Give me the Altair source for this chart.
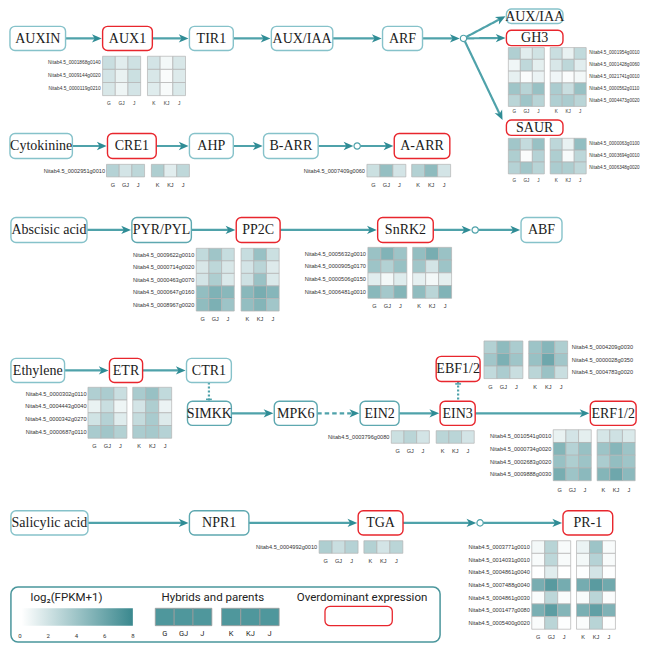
import math
import altair as alt
import pandas as pd

# ======================= DATA =======================
COLS = ["G", "GJ", "J", "K", "KJ", "J"]

NODE_IDS = ["auxin", "aux1", "tir1", "auxiaa1", "arf", "auxiaa2", "gh3", "saur",
            "cyto", "cre1", "ahp", "barr", "aarr",
            "aba", "pyr", "pp2c", "snrk2", "abf",
            "eth", "etr", "ctr1", "simkk", "mpk6", "ein2", "ein3", "ebf", "erf",
            "sa", "npr1", "tga", "pr1"]
NODE_LABELS = ["AUXIN", "AUX1", "TIR1", "AUX/IAA", "ARF", "AUX/IAA", "GH3", "SAUR",
               "Cytokinine", "CRE1", "AHP", "B-ARR", "A-ARR",
               "Abscisic acid", "PYR/PYL", "PP2C", "SnRK2", "ABF",
               "Ethylene", "ETR", "CTR1", "SIMKK", "MPK6", "EIN2", "EIN3", "EBF1/2", "ERF1/2",
               "Salicylic acid", "NPR1", "TGA", "PR-1"]
# n = plain node, d = plain node (darker outline), o = overdominant expression
NODE_KINDS = ["n", "o", "n", "n", "n", "n", "o", "o",
              "n", "o", "n", "n", "o",
              "n", "d", "o", "o", "n",
              "n", "o", "n", "d", "d", "d", "o", "o", "o",
              "n", "d", "o", "o"]

EDGES = [("auxin", "aux1", "solid"), ("aux1", "tir1", "solid"), ("tir1", "auxiaa1", "solid"),
         ("auxiaa1", "arf", "solid"), ("arf", "j1", "solid"), ("j1", "auxiaa2", "solid"),
         ("j1", "gh3", "solid"), ("j1", "saur", "solid"),
         ("cyto", "cre1", "solid"), ("cre1", "ahp", "solid"), ("ahp", "barr", "solid"),
         ("barr", "j2", "solid"), ("j2", "aarr", "solid"),
         ("aba", "pyr", "solid"), ("pyr", "pp2c", "solid"), ("pp2c", "snrk2", "solid"),
         ("snrk2", "j3", "solid"), ("j3", "abf", "solid"),
         ("eth", "etr", "solid"), ("etr", "ctr1", "solid"), ("simkk", "mpk6", "solid"),
         ("mpk6", "ein2", "dashed"), ("ein2", "ein3", "solid"), ("ein3", "erf", "solid"),
         ("sa", "npr1", "solid"), ("npr1", "tga", "solid"), ("tga", "j4", "solid"),
         ("j4", "pr1", "solid")]
INHIBITIONS = [("ctr1", "simkk", "bottom"), ("ebf", "ein3", "top")]

AUX1_GENES = ["Nitab4.5_0001868g0140", "Nitab4.5_0009144g0020", "Nitab4.5_0000119g0210"]
AUX1_VALUES = [[2.2, 1.2, 2.0, 1.8, 0.5, 1.6],
               [1.8, 0.9, 2.1, 1.6, 0.2, 1.4],
               [1.6, 0.7, 1.8, 1.3, 0.3, 1.5]]

GH3_GENES = ["Nitab4.5_0001954g0010", "Nitab4.5_0001428g0060", "Nitab4.5_0021741g0010",
             "Nitab4.5_0000562g0110", "Nitab4.5_0004473g0020"]
GH3_VALUES = [[3.2, 1.2, 1.9, 2.2, 0.9, 2.5],
              [0.6, 2.6, 1.1, 1.6, 2.7, 1.2],
              [1.0, 0.2, 0.8, 0.6, 0.2, 0.5],
              [3.9, 2.9, 4.2, 3.4, 2.2, 4.2],
              [2.8, 3.9, 2.9, 3.2, 3.4, 2.8]]

SAUR_GENES = ["Nitab4.5_0000063g0100", "Nitab4.5_0003694g0010", "Nitab4.5_0006348g0020"]
SAUR_VALUES = [[3.8, 2.4, 4.2, 2.7, 0.9, 4.4],
               [3.3, 0.2, 3.0, 3.3, 0.3, 2.7],
               [3.0, 3.8, 2.9, 3.4, 3.3, 2.6]]

CRE1_GENES = ["Nitab4.5_0002951g0010"]
CRE1_VALUES = [[3.0, 1.8, 2.7, 3.3, 1.2, 2.6]]

AARR_GENES = ["Nitab4.5_0007409g0060"]
AARR_VALUES = [[2.1, 4.3, 1.8, 3.1, 4.6, 1.8]]

PP2C_GENES = ["Nitab4.5_0009622g0010", "Nitab4.5_0000714g0020", "Nitab4.5_0000463g0070",
              "Nitab4.5_0000647g0160", "Nitab4.5_0008967g0020"]
PP2C_VALUES = [[2.5, 3.9, 2.3, 2.3, 4.2, 2.1],
               [1.6, 2.7, 1.6, 1.8, 2.8, 1.4],
               [1.8, 3.3, 1.5, 2.0, 4.1, 1.5],
               [4.4, 5.2, 4.8, 4.8, 5.5, 4.9],
               [4.5, 5.3, 4.0, 4.4, 5.0, 3.8]]

SNRK2_GENES = ["Nitab4.5_0005632g0010", "Nitab4.5_0000905g0170", "Nitab4.5_0000506g0150",
               "Nitab4.5_0006481g0010"]
SNRK2_VALUES = [[4.1, 5.1, 4.0, 4.4, 5.5, 4.1],
                [4.0, 3.1, 4.2, 3.8, 1.8, 4.0],
                [1.2, 0.5, 1.3, 1.0, 0.5, 1.1],
                [4.8, 3.7, 5.0, 4.5, 2.8, 5.1]]

EBF_GENES = ["Nitab4.5_0004209g0030", "Nitab4.5_0000028g0350", "Nitab4.5_0004783g0020"]
EBF_VALUES = [[3.1, 4.6, 3.4, 4.0, 4.9, 3.3],
              [3.8, 5.3, 3.9, 4.2, 5.9, 3.8],
              [2.5, 3.4, 2.2, 2.8, 4.1, 2.2]]

ETR_GENES = ["Nitab4.5_0000302g0110", "Nitab4.5_0004443g0040", "Nitab4.5_0000342g0270",
             "Nitab4.5_0000687g0110"]
ETR_VALUES = [[3.2, 3.4, 2.2, 3.5, 4.2, 2.5],
              [0.9, 2.2, 0.7, 1.8, 3.3, 0.8],
              [1.9, 3.0, 1.3, 2.4, 3.5, 1.4],
              [3.5, 3.8, 3.1, 3.4, 3.6, 3.0]]

EIN2_GENES = ["Nitab4.5_0003796g0080"]
EIN2_VALUES = [[2.1, 2.8, 1.8, 2.8, 2.8, 1.8]]

ERF_GENES = ["Nitab4.5_0010541g0010", "Nitab4.5_0000734g0020", "Nitab4.5_0002683g0020",
             "Nitab4.5_0009888g0030"]
ERF_VALUES = [[0.9, 1.8, 1.1, 1.7, 2.0, 1.5],
              [5.0, 3.0, 4.2, 4.0, 4.9, 4.0],
              [4.2, 3.3, 4.0, 3.4, 4.4, 3.9],
              [5.5, 4.0, 4.7, 5.0, 5.9, 4.7]]

TGA_GENES = ["Nitab4.5_0004992g0010"]
TGA_VALUES = [[3.3, 2.2, 3.0, 3.1, 1.8, 2.8]]

PR1_GENES = ["Nitab4.5_0003771g0010", "Nitab4.5_0014031g0010", "Nitab4.5_0004861g0040",
             "Nitab4.5_0007488g0040", "Nitab4.5_0004861g0030", "Nitab4.5_0001477g0080",
             "Nitab4.5_0005400g0020"]
PR1_VALUES = [[0.5, 2.9, 0.3, 0.8, 4.0, 0.3],
              [0.3, 2.7, 0.3, 0.5, 3.0, 0.3],
              [0.0, 1.2, 0.0, 0.1, 1.8, 0.1],
              [5.5, 6.8, 5.6, 5.6, 6.7, 5.8],
              [0.2, 2.7, 0.2, 0.3, 2.8, 0.2],
              [5.4, 6.6, 5.0, 5.4, 6.4, 5.2],
              [0.2, 2.8, 0.1, 0.2, 2.9, 0.1]]

LEGEND_TITLES = ["log\u2082(FPKM+1)", "Hybrids and parents", "Overdominant expression"]
LEGEND_TICKS = [0, 2, 4, 6, 8]
COLOR_DOMAIN = [0, 8]

# ======================= LAYOUT / STYLE =======================
W, H = 633, 636
SRC_W, SRC_H = 649, 659
SERIF = "'Liberation Serif', 'Times New Roman', 'DejaVu Serif', serif"
SANS = "'Liberation Sans', Arial, sans-serif"
TEAL_L, TEAL_D, RED = "#86c2ca", "#5ea8b0", "#e8262d"
LINE, HEAD = "#4fa2aa", "#2f8c95"
HIGH = "#3a888e"
CELL_STROKE = "#b3b3b3"

R1, R2, R3, R4, R4B, R5 = (19, 44), (130, 156), (217, 243), (363, 388), (407.5, 432.5), (521, 546)
BOXES = {
    "auxin": (2, 59) + R1, "aux1": (97, 148) + R1, "tir1": (186, 231) + R1,
    "auxiaa1": (270, 333) + R1, "arf": (384, 425) + R1,
    "auxiaa2": (511, 569, 1, 16), "gh3": (511, 569, 23, 39), "saur": (511, 569, 116, 132),
    "cyto": (2, 66) + R2, "cre1": (102, 152) + R2, "ahp": (186, 231) + R2,
    "barr": (262, 318) + R2, "aarr": (396, 453) + R2,
    "aba": (3, 81) + R3, "pyr": (127, 188) + R3, "pp2c": (234, 279) + R3,
    "snrk2": (379, 436) + R3, "abf": (526, 568) + R3,
    "eth": (3, 58) + R4, "etr": (104, 138) + R4, "ctr1": (183, 229) + R4,
    "simkk": (184, 229) + R4B, "mpk6": (273, 317) + R4B, "ein2": (361, 401) + R4B,
    "ein3": (443, 479) + R4B, "ebf": (439, 484, 361, 387), "erf": (597, 644) + R4B,
    "sa": (3, 82) + R5, "npr1": (186, 247) + R5, "tga": (359, 405) + R5, "pr1": (569, 620) + R5,
}
JUNCTIONS = {"j1": (467, 31.5), "j2": (358, 143), "j3": (479, 230), "j4": (484, 533.5)}
JR = 3.2
TIPS = {("j1", "saur"): (507, 116)}
HEAD_SIZE = 95
HEAD_H = 4.9
ARROW_PATH = "M0,-1 L0.85,1 L0,0.45 L-0.85,1 Z"

HEAT = [  # values, genes, x0, cell w, block gap, y0, cell h, label x, label align, label size, col-label y
    (AUX1_VALUES, AUX1_GENES, 97, 13, 7, 50, 13.6, 95, "right", 4.8, 99),
    (GH3_VALUES, GH3_GENES, 513, 12.3, 6, 41, 12.2, 596, "left", 4.6, 108),
    (SAUR_VALUES, SAUR_GENES, 513, 12.3, 6, 135, 12.3, 596, "left", 4.6, 179),
    (CRE1_VALUES, CRE1_GENES, 101, 13, 7, 162, 13, 99.5, "right", 5.6, 183),
    (AARR_VALUES, AARR_GENES, 368, 13.3, 6, 162, 13, 366, "right", 5.6, 183),
    (PP2C_VALUES, PP2C_GENES, 193, 13, 7, 249, 13, 191, "right", 5.6, 322),
    (SNRK2_VALUES, SNRK2_GENES, 369, 13.3, 6, 248, 13.2, 367, "right", 5.6, 309),
    (EBF_VALUES, EBF_GENES, 488, 13.3, 6, 345, 13, 578, "left", 5.6, 393),
    (ETR_VALUES, ETR_GENES, 82, 13.3, 6, 393, 13.2, 80.5, "right", 5.6, 454),
    (EIN2_VALUES, EIN2_GENES, 393, 13, 7, 438, 13, 391, "right", 5.6, 459),
    (ERF_VALUES, ERF_GENES, 559, 13, 6, 437, 13.2, 557, "right", 5.6, 499),
    (TGA_VALUES, TGA_GENES, 319, 13.3, 6, 552, 13, 317, "right", 5.6, 573),
    (PR1_VALUES, PR1_GENES, 537, 13.3, 6, 552, 13.1, 535, "right", 5.6, 652),
]

LEG_BOX = (3, 443, 600, 657)
LEG_TITLE_POS = [(60, 611), (210, 611), (363, 611)]
LEG_GRAD = (14, 128, 622, 640)
LEG_TICK_X0, LEG_TICK_X1, LEG_TICK_Y = 12.3, 128, 651
HYB_BLOCKS = [(151, 209), (219, 278)]
HYB_Y = (622, 640)
HYB_LABEL_Y = 649
HYB_FILL = "#4f979c"
OD_BOX = (325, 394, 620, 640)

XS = alt.Scale(domain=[0, SRC_W], nice=False, zero=False)
YS = alt.Scale(domain=[0, SRC_H], nice=False, zero=False, reverse=True)


def X(f):
    return alt.X(f"{f}:Q", scale=XS, axis=None)


def Y(f):
    return alt.Y(f"{f}:Q", scale=YS, axis=None)


# ======================= BUILD TABLES =======================
nodes = []
for nid, lab, kind in zip(NODE_IDS, NODE_LABELS, NODE_KINDS):
    x1, x2, y1, y2 = BOXES[nid]
    nodes.append(dict(x1=x1, x2=x2, y1=y1, y2=y2, cx=(x1 + x2) / 2, cy=(y1 + y2) / 2 + 0.5,
                      label=lab, kind=kind))
nodes_df = pd.DataFrame(nodes)


def center(n):
    if n in JUNCTIONS:
        return JUNCTIONS[n]
    x1, x2, y1, y2 = BOXES[n]
    return ((x1 + x2) / 2, (y1 + y2) / 2)


lines, heads = [], []
for s, t, style in EDGES:
    if (s, t) in TIPS:
        tip = TIPS[(s, t)]
    elif t in JUNCTIONS:
        tip = (JUNCTIONS[t][0] - JR - 0.8, JUNCTIONS[t][1])
    else:
        tip = (BOXES[t][0] - 1, center(t)[1])
    if s in JUNCTIONS:
        c = JUNCTIONS[s]
        d = math.hypot(tip[0] - c[0], tip[1] - c[1])
        start = (c[0] + JR * (tip[0] - c[0]) / d, c[1] + JR * (tip[1] - c[1]) / d)
    else:
        start = (BOXES[s][1], center(s)[1])
    dx, dy = tip[0] - start[0], tip[1] - start[1]
    L = math.hypot(dx, dy)
    ux, uy = dx / L, dy / L
    hx, hy = tip[0] - HEAD_H * ux, tip[1] - HEAD_H * uy
    lines.append(dict(x=start[0], y=start[1], x2=hx, y2=hy, style=style))
    heads.append(dict(x=hx, y=hy, angle=math.degrees(math.atan2(ux, -uy)) % 360))

tbars = []
for s, t, bar_at in INHIBITIONS:
    cx = center(s)[0]
    ya, yb = BOXES[s][3], BOXES[t][2]
    lines.append(dict(x=cx, y=ya, x2=cx, y2=yb, style="dotted"))
    yb_ = yb - 2 if bar_at == "bottom" else ya + 2.5
    tbars.append(dict(x=cx - 3, x2=cx + 3, y=yb_, y2=yb_))
lines_df = pd.DataFrame(lines)
heads_df = pd.DataFrame(heads)
tbar_df = pd.DataFrame(tbars)
junc_df = pd.DataFrame([dict(x=v[0], y=v[1]) for v in JUNCTIONS.values()])

cells, labels_l, labels_r, collabs = [], [], [], []
for vals, genes, x0, cw, gap, y0, ch, lx, la, fs, coly in HEAT:
    for i, (g, row) in enumerate(zip(genes, vals)):
        for j, v in enumerate(row):
            cx1 = x0 + j * cw + (gap if j >= 3 else 0)
            cells.append(dict(x1=cx1, x2=cx1 + cw, y1=y0 + i * ch, y2=y0 + (i + 1) * ch, v=v))
        lab = dict(x=lx, y=y0 + (i + 0.5) * ch, text=g, fs=fs)
        (labels_r if la == "right" else labels_l).append(lab)
    for j, c in enumerate(COLS):
        cx1 = x0 + j * cw + (gap if j >= 3 else 0)
        collabs.append(dict(x=cx1 + cw / 2, y=coly, text=c, fs=fs))
cells_df = pd.DataFrame(cells)
lab_r_df = pd.DataFrame(labels_r)
lab_l_df = pd.DataFrame(labels_l)
col_df = pd.DataFrame(collabs)

fill_scale = alt.Scale(domain=COLOR_DOMAIN, range=["#ffffff", HIGH], interpolate="rgb")

# ======================= LAYERS =======================
edge_layer = alt.Chart(lines_df).mark_rule(strokeWidth=2.2, color=LINE).encode(
    x=X("x"), y=Y("y"), x2="x2", y2="y2",
    strokeDash=alt.StrokeDash("style:N", scale=alt.Scale(domain=["solid", "dashed", "dotted"],
                                                         range=[[1, 0], [4.5, 3], [2, 2]]), legend=None))
tbar_layer = alt.Chart(tbar_df).mark_rule(strokeWidth=1.6, color=LINE).encode(
    x=X("x"), y=Y("y"), x2="x2", y2="y2")
head_layer = alt.Chart(heads_df).mark_point(shape=ARROW_PATH, filled=True, size=HEAD_SIZE,
                                            color=HEAD, opacity=1, strokeWidth=0).encode(
    x=X("x"), y=Y("y"), angle=alt.Angle("angle:Q", scale=None))
junc_layer = alt.Chart(junc_df).mark_point(shape="circle", filled=True, fill="white", stroke=LINE,
                                           strokeWidth=1.2, size=40, opacity=1).encode(
    x=X("x"), y=Y("y"))

node_rect = alt.Chart(nodes_df).mark_rect(cornerRadius=5, fill="white", strokeWidth=1.4).encode(
    x=X("x1"), x2="x2", y=Y("y1"), y2="y2",
    stroke=alt.Stroke("kind:N", scale=alt.Scale(domain=["n", "d", "o"], range=[TEAL_L, TEAL_D, RED]),
                      legend=None))
node_text = alt.Chart(nodes_df).mark_text(font=SERIF, fontSize=14, color="#1b1b1b",
                                          baseline="middle").encode(
    x=X("cx"), y=Y("cy"), text="label:N")

cell_layer = alt.Chart(cells_df).mark_rect(stroke=CELL_STROKE, strokeWidth=0.7).encode(
    x=X("x1"), x2="x2", y=Y("y1"), y2="y2", fill=alt.Fill("v:Q", scale=fill_scale, legend=None))
lab_r_layer = alt.Chart(lab_r_df).mark_text(font=SANS, align="right", baseline="middle",
                                            color="#333333").encode(
    x=X("x"), y=Y("y"), text="text:N", size=alt.Size("fs:Q", scale=None))
lab_l_layer = alt.Chart(lab_l_df).mark_text(font=SANS, align="left", baseline="middle",
                                            color="#333333").encode(
    x=X("x"), y=Y("y"), text="text:N", size=alt.Size("fs:Q", scale=None))
col_layer = alt.Chart(col_df).mark_text(font=SANS, align="center", baseline="middle",
                                        color="#333333").encode(
    x=X("x"), y=Y("y"), text="text:N", size=alt.Size("fs:Q", scale=None))

# ---- legend ----
leg_box_df = pd.DataFrame([dict(x1=LEG_BOX[0], x2=LEG_BOX[1], y1=LEG_BOX[2], y2=LEG_BOX[3])])
leg_box = alt.Chart(leg_box_df).mark_rect(cornerRadius=7, fill="white", stroke="#4a969c",
                                          strokeWidth=1.5).encode(
    x=X("x1"), x2="x2", y=Y("y1"), y2="y2")
leg_title_df = pd.DataFrame([dict(x=p[0], y=p[1], text=t) for t, p in zip(LEGEND_TITLES, LEG_TITLE_POS)])
leg_titles = alt.Chart(leg_title_df).mark_text(font="Roboto", fontSize=11.5, color="#222222",
                                               baseline="middle").encode(
    x=X("x"), y=Y("y"), text="text:N")
grad_df = pd.DataFrame([dict(x1=LEG_GRAD[0], x2=LEG_GRAD[1], y1=LEG_GRAD[2], y2=LEG_GRAD[3])])
grad_layer = alt.Chart(grad_df).mark_rect(fill={
    "gradient": "linear", "x1": 0, "x2": 1, "y1": 0, "y2": 0,
    "stops": [{"offset": 0, "color": "#ffffff"}, {"offset": 1, "color": HIGH}]}).encode(
    x=X("x1"), x2="x2", y=Y("y1"), y2="y2")
tick_df = pd.DataFrame([dict(x=LEG_TICK_X0 + (v - COLOR_DOMAIN[0]) / (COLOR_DOMAIN[1] - COLOR_DOMAIN[0])
                             * (LEG_TICK_X1 - LEG_TICK_X0), y=LEG_TICK_Y, text=str(v)) for v in LEGEND_TICKS])
tick_layer = alt.Chart(tick_df).mark_text(font="Roboto", fontSize=6, color="#333333",
                                          baseline="middle").encode(
    x=X("x"), y=Y("y"), text="text:N")
hyb, hyb_lab = [], []
for b, (bx1, bx2) in enumerate(HYB_BLOCKS):
    cw = (bx2 - bx1) / 3
    for j in range(3):
        hyb.append(dict(x1=bx1 + j * cw, x2=bx1 + (j + 1) * cw, y1=HYB_Y[0], y2=HYB_Y[1]))
        hyb_lab.append(dict(x=bx1 + (j + 0.5) * cw, y=HYB_LABEL_Y, text=COLS[b * 3 + j]))
hyb_layer = alt.Chart(pd.DataFrame(hyb)).mark_rect(fill=HYB_FILL, stroke="#9c9c9c",
                                                   strokeWidth=0.8).encode(
    x=X("x1"), x2="x2", y=Y("y1"), y2="y2")
hyb_lab_layer = alt.Chart(pd.DataFrame(hyb_lab)).mark_text(font="Roboto", fontSize=7.5,
                                                           color="#222222", baseline="middle").encode(
    x=X("x"), y=Y("y"), text="text:N")
od_df = pd.DataFrame([dict(x1=OD_BOX[0], x2=OD_BOX[1], y1=OD_BOX[2], y2=OD_BOX[3])])
od_layer = alt.Chart(od_df).mark_rect(cornerRadius=5, fill="white", stroke=RED,
                                      strokeWidth=1.3).encode(
    x=X("x1"), x2="x2", y=Y("y1"), y2="y2")

chart = alt.layer(
    edge_layer, tbar_layer, head_layer, junc_layer,
    node_rect, node_text,
    cell_layer, lab_r_layer, lab_l_layer, col_layer,
    leg_box, leg_titles, grad_layer, tick_layer, hyb_layer, hyb_lab_layer, od_layer,
).properties(
    width=W, height=H, padding=0, autosize=alt.AutoSizeParams(type="none"),
    background="white",
).configure_view(stroke=None)

chart.save("out.html", embed_options={"renderer": "svg", "actions": False})
